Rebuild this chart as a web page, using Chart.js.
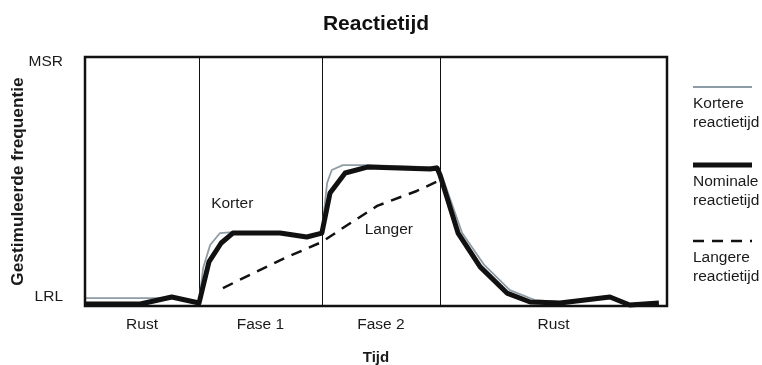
<!DOCTYPE html>
<html>
<head>
<meta charset="utf-8">
<script src="https://cdn.jsdelivr.net/npm/chart.js@4/dist/chart.umd.min.js"></script>
<style>
  html, body { margin: 0; padding: 0; background: #ffffff; }
  #wrap { width: 762px; height: 365px; position: relative; }
</style>
</head>
<body>
<div id="wrap"><canvas id="c" width="762" height="365"></canvas></div>
<script>
// ---- data ----
const phaseBounds = [19.6, 40.7, 61.0];
const phaseLabels = ['Rust', 'Fase 1', 'Fase 2', 'Rust'];
const yTickValues = [3.6, 98];
const yTickLabels = ['LRL', 'MSR'];

const shortX = [0, 8.6, 14.9, 19.6, 20.3, 21.5, 23.2, 25.4, 33.5, 38.1, 40.7, 41.6, 42.4, 44.3, 48.5, 59.3, 60.5, 61.3, 64.8, 68.6, 73.0, 77.3, 81.6, 90.2, 93.6, 98.6];
const shortY = [3.2, 3.2, 3.2, 1.6, 15.3, 24.5, 29.3, 29.7, 29.7, 28.1, 29.7, 49.4, 54.6, 56.6, 56.6, 55.8, 56.2, 52.6, 29.3, 16.5, 6.4, 2.4, 1.6, 4.0, 0.8, 1.6];

const nominalX = [0, 9.5, 14.9, 19.6, 21.3, 23.4, 25.4, 33.5, 38.1, 40.7, 42.1, 44.7, 48.5, 59.3, 60.5, 61.0, 64.1, 67.9, 72.5, 76.5, 81.6, 90.2, 93.6, 98.6];
const nominalY = [0.8, 0.8, 3.6, 1.2, 17.7, 25.3, 29.3, 29.3, 27.7, 29.3, 45.4, 53.4, 55.8, 55.0, 55.4, 52.6, 29.3, 15.7, 5.2, 1.6, 1.2, 3.6, 0.4, 1.2];

const longX = [23.7, 28.7, 34.4, 40.7, 44.3, 50.2, 57.0, 60.7];
const longY = [7.2, 12.9, 19.3, 25.7, 31.3, 40.2, 46.2, 50.2];

const noteLabels = ['Korter', 'Langer'];
const noteX = [25.3, 52.2];
const noteY = [41.0, 30.5];

// ---- build ----
const pts = (xs, ys) => xs.map((x, i) => ({ x: x, y: ys[i] }));
const phaseEdges = [0].concat(phaseBounds, [100]);
const phaseCenters = phaseLabels.map((_, i) => (phaseEdges[i] + phaseEdges[i + 1]) / 2);

const FONT = "'Liberation Sans', Arial, Helvetica, sans-serif";
Chart.defaults.font.family = FONT;
Chart.defaults.color = '#1a1a1a';

const framePlugin = {
  id: 'frame',
  beforeDatasetsDraw(chart) {
    const { ctx, chartArea: a, scales } = chart;
    ctx.save();
    ctx.strokeStyle = '#111';
    ctx.lineWidth = 1;
    phaseBounds.forEach(v => {
      const px = Math.round(scales.x.getPixelForValue(v)) + 0.5;
      ctx.beginPath(); ctx.moveTo(px, a.top); ctx.lineTo(px, a.bottom); ctx.stroke();
    });
    ctx.fillStyle = '#1a1a1a';
    ctx.font = '15.5px ' + FONT;
    ctx.textAlign = 'center';
    ctx.textBaseline = 'middle';
    noteLabels.forEach((t, i) => {
      ctx.fillText(t, scales.x.getPixelForValue(noteX[i]), scales.y.getPixelForValue(noteY[i]));
    });
    ctx.restore();
  },
  afterDatasetsDraw(chart) {
    const { ctx, chartArea: a } = chart;
    ctx.save();
    ctx.strokeStyle = '#111';
    ctx.lineWidth = 2.5;
    ctx.strokeRect(a.left, a.top, a.right - a.left, a.bottom - a.top);
    // legend
    const lx0 = 693, lx1 = 752;
    const lineYs = [87, 165, 241];
    chart.data.datasets.forEach((ds, i) => {
      const y = lineYs[i];
      ctx.beginPath();
      ctx.strokeStyle = ds.borderColor;
      ctx.lineWidth = ds.borderWidth;
      ctx.setLineDash(ds.borderDash || []);
      ctx.moveTo(lx0, y); ctx.lineTo(lx1, y); ctx.stroke();
      ctx.setLineDash([]);
      const words = ds.label.split(' ');
      ctx.fillStyle = '#1a1a1a';
      ctx.font = '15.5px ' + FONT;
      ctx.textAlign = 'left';
      ctx.textBaseline = 'middle';
      ctx.fillText(words[0], lx0, y + 17);
      ctx.fillText(words[1], lx0, y + 36);
    });
    ctx.restore();
  }
};

new Chart(document.getElementById('c'), {
  type: 'line',
  data: {
    datasets: [
      { label: 'Kortere reactietijd', data: pts(shortX, shortY), borderColor: '#8e9ca6', borderWidth: 1.8, order: 3 },
      { label: 'Nominale reactietijd', data: pts(nominalX, nominalY), borderColor: '#111111', borderWidth: 5, order: 1 },
      { label: 'Langere reactietijd', data: pts(longX, longY), borderColor: '#111111', borderWidth: 2.5, borderDash: [11, 8], order: 2 }
    ]
  },
  options: {
    responsive: false,
    animation: false,
    devicePixelRatio: 1,
    parsing: false,
    layout: { padding: { top: 0, right: 95, bottom: 0, left: 0 } },
    elements: {
      point: { radius: 0 },
      line: { tension: 0, borderJoinStyle: 'round', borderCapStyle: 'butt' }
    },
    datasets: { line: { clip: false } },
    plugins: {
      legend: { display: false },
      tooltip: { enabled: false },
      title: {
        display: true,
        text: 'Reactietijd',
        fullSize: false,
        color: '#111',
        font: { size: 21, weight: 'bold', lineHeight: 1.2 },
        padding: { top: 12, bottom: 19.8 }
      }
    },
    scales: {
      x: {
        type: 'linear',
        min: 0, max: 100,
        grid: { display: false },
        border: { display: false },
        afterFit(s) { s.height = 59; },
        afterBuildTicks(s) { s.ticks = phaseCenters.map(v => ({ value: v })); },
        ticks: {
          autoSkip: false,
          maxRotation: 0,
          padding: 1,
          font: { size: 15.5 },
          callback: (v, i) => phaseLabels[i]
        },
        title: {
          display: true,
          text: 'Tijd',
          font: { size: 15, weight: 'bold', lineHeight: 1 },
          padding: { top: 0, bottom: 0 }
        }
      },
      y: {
        type: 'linear',
        min: 0, max: 100,
        grid: { display: false },
        border: { display: false },
        afterFit(s) { s.width = 85; },
        afterBuildTicks(s) { s.ticks = yTickValues.map(v => ({ value: v })); },
        ticks: {
          autoSkip: false,
          padding: 14,
          font: { size: 15.5 },
          callback: (v, i) => yTickLabels[i]
        },
        title: {
          display: true,
          text: 'Gestimuleerde frequentie',
          font: { size: 17.3, weight: 'bold', lineHeight: 1.2 },
          padding: { top: 7.5, bottom: 0 }
        }
      }
    }
  },
  plugins: [framePlugin]
});
</script>
</body>
</html>
